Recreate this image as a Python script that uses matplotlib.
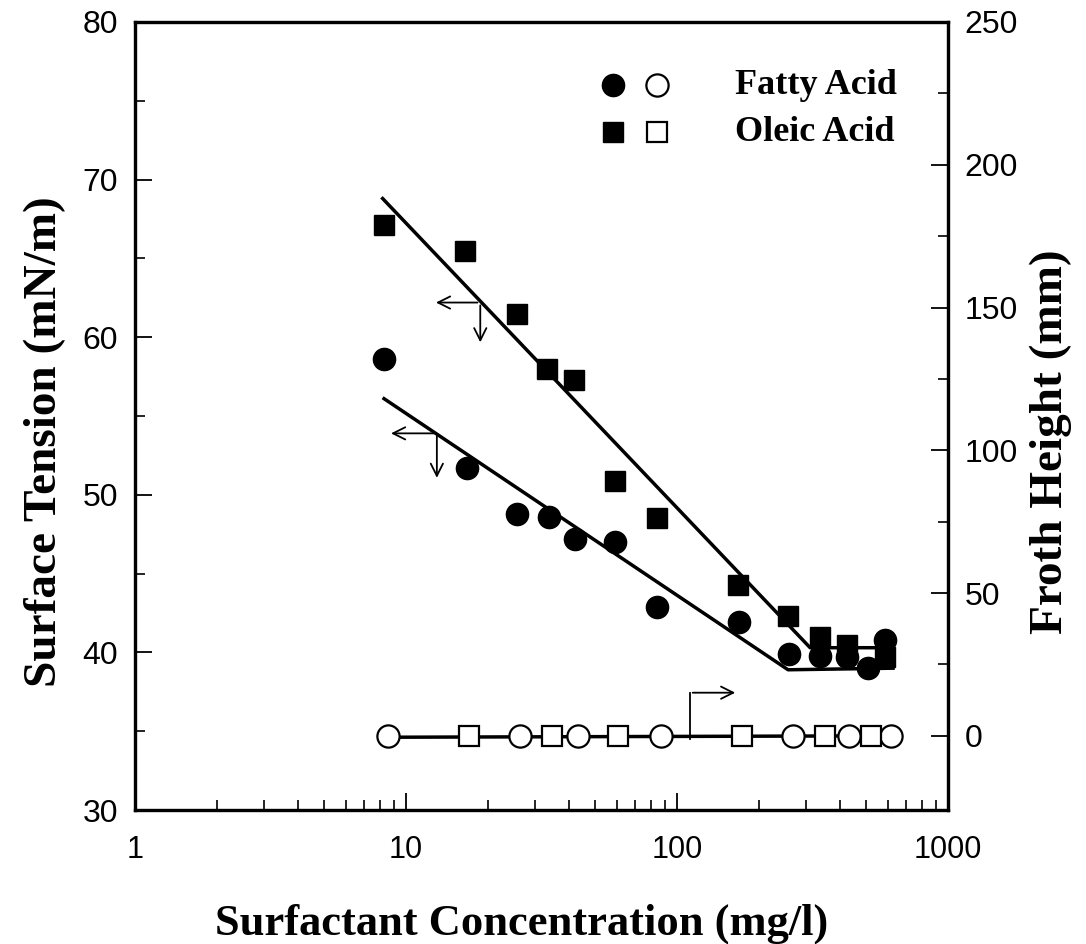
import matplotlib
matplotlib.use("Agg")
import matplotlib.pyplot as plt
from matplotlib.ticker import LogLocator, MultipleLocator, NullFormatter, FixedFormatter, FixedLocator

# surface tension (mN/m) vs concentration (mg/l)
fatty_conc = [8.3, 16.8, 25.7, 33.7, 42, 59, 84.4, 170, 258, 337, 424, 507, 586]
fatty_st = [58.6, 51.7, 48.8, 48.6, 47.2, 47.0, 42.9, 41.9, 39.9, 39.8, 39.7, 39.0, 40.8]
oleic_conc = [8.3, 16.5, 25.7, 33.1, 41.7, 59, 84.4, 168, 257, 337, 424, 586]
oleic_st = [67.1, 65.5, 61.5, 58.0, 57.3, 50.9, 48.5, 44.3, 42.3, 41.0, 40.5, 39.7]

# fitted trend lines
fatty_fit_x = [8.3, 257, 627]
fatty_fit_y = [56.1, 38.9, 39.0]
oleic_fit_x = [8.2, 310, 600]
oleic_fit_y = [68.8, 40.3, 40.3]

# froth height (mm)
fatty_froth_conc = [8.6, 26.4, 43.1, 87.1, 267, 431, 616]
fatty_froth = [0, 0, 0, 0, 0, 0, 0]
oleic_froth_conc = [17.1, 34.6, 60.8, 174, 351, 522]
oleic_froth = [0, 0, 0, 0, 0, 0]
froth_line_x = [8.6, 616]
froth_line_y = [-0.5, 0]

serif = "Liberation Serif"
sans = "Liberation Sans"

fig = plt.figure(figsize=(10.86, 9.44), dpi=100)
ax = fig.add_axes([0.1243, 0.1419, 0.7486, 0.8348])
ax2 = ax.twinx()

ax.set_xscale("log")
ax.set_xlim(1, 1000)
ax.set_ylim(30, 80)
ax2.set_ylim(-26, 250)

ax.plot(fatty_fit_x, fatty_fit_y, color="black", lw=2.5, zorder=2)
ax.plot(oleic_fit_x, oleic_fit_y, color="black", lw=2.5, zorder=2)
ax.plot(oleic_conc, oleic_st, "s", color="black", ms=15, zorder=3)
ax.plot(fatty_conc, fatty_st, "o", color="black", ms=16, zorder=3)

ax2.plot(froth_line_x, froth_line_y, color="black", lw=2.5, zorder=2)
ax2.plot(fatty_froth_conc, fatty_froth, "o", mfc="white", mec="black", mew=1.6, ms=16, zorder=3)
ax2.plot(oleic_froth_conc, oleic_froth, "s", mfc="white", mec="black", mew=1.6, ms=14.5, zorder=3)

# axis indicator arrows
arr = dict(arrowstyle="->", color="black", lw=1.3, mutation_scale=22)
ax.annotate("", xy=(12.6, 62.2), xytext=(18.8, 62.2), arrowprops=arr)
ax.annotate("", xy=(18.8, 59.5), xytext=(18.8, 62.2), arrowprops=arr)
ax.annotate("", xy=(8.6, 53.9), xytext=(13.0, 53.9), arrowprops=arr)
ax.annotate("", xy=(13.0, 50.9), xytext=(13.0, 53.9), arrowprops=arr)
ax2.plot([111.6, 111.6], [-1, 15.1], color="black", lw=1.3)
ax2.annotate("", xy=(168, 15.1), xytext=(111.6, 15.1), arrowprops=arr)

# legend drawn by hand
ax.plot([0.588], [0.920], "o", color="black", ms=16, transform=ax.transAxes, clip_on=False)
ax.plot([0.642], [0.920], "o", mfc="white", mec="black", mew=1.6, ms=16, transform=ax.transAxes, clip_on=False)
ax.plot([0.588], [0.860], "s", color="black", ms=14, transform=ax.transAxes, clip_on=False)
ax.plot([0.642], [0.860], "s", mfc="white", mec="black", mew=1.6, ms=14, transform=ax.transAxes, clip_on=False)
ax.text(0.738, 0.920, "Fatty Acid", transform=ax.transAxes, fontsize=26, fontweight="bold",
        family=serif, va="center", ha="left")
ax.text(0.738, 0.860, "Oleic Acid", transform=ax.transAxes, fontsize=26, fontweight="bold",
        family=serif, va="center", ha="left")

# ticks
ax.xaxis.set_major_locator(FixedLocator([1, 10, 100, 1000]))
ax.xaxis.set_major_formatter(FixedFormatter(["1", "10", "100", "1000"]))
ax.xaxis.set_minor_locator(LogLocator(base=10, subs=range(2, 10)))
ax.xaxis.set_minor_formatter(NullFormatter())
ax.yaxis.set_major_locator(MultipleLocator(10))
ax.yaxis.set_minor_locator(MultipleLocator(5))
ax2.yaxis.set_major_locator(FixedLocator([0, 50, 100, 150, 200, 250]))
ax2.yaxis.set_minor_locator(FixedLocator([25, 75, 125, 175, 225]))

ax.tick_params(axis="both", which="major", direction="in", length=12, width=1.3, pad=12)
ax.tick_params(axis="both", which="minor", direction="in", length=7, width=1.2)
ax.tick_params(axis="y", which="major", labelsize=23)
ax.tick_params(axis="x", which="major", labelsize=22, pad=18)
ax.tick_params(axis="x", which="both", top=False)
ax2.tick_params(axis="y", which="major", direction="in", length=12, width=1.3, labelsize=23, pad=12)
ax2.tick_params(axis="y", which="minor", direction="in", length=7, width=1.2)
for lab in ax.get_xticklabels() + ax.get_yticklabels() + ax2.get_yticklabels():
    lab.set_family(sans)

for a in (ax, ax2):
    for sp in a.spines.values():
        sp.set_linewidth(2.3)

ax.set_xlabel("Surfactant Concentration (mg/l)", fontsize=32, fontweight="bold", family=serif, labelpad=28)
ax.set_ylabel("Surface Tension (mN/m)", fontsize=34, fontweight="bold", family=serif, labelpad=12)
ax2.set_ylabel("Froth Height (mm)", fontsize=34, fontweight="bold", family=serif, labelpad=8)
ax.xaxis.label.set_x(0.475)
ax.yaxis.label.set_y(0.468)
ax2.yaxis.label.set_y(0.468)

fig.savefig("out.png", dpi=100, facecolor="white")
